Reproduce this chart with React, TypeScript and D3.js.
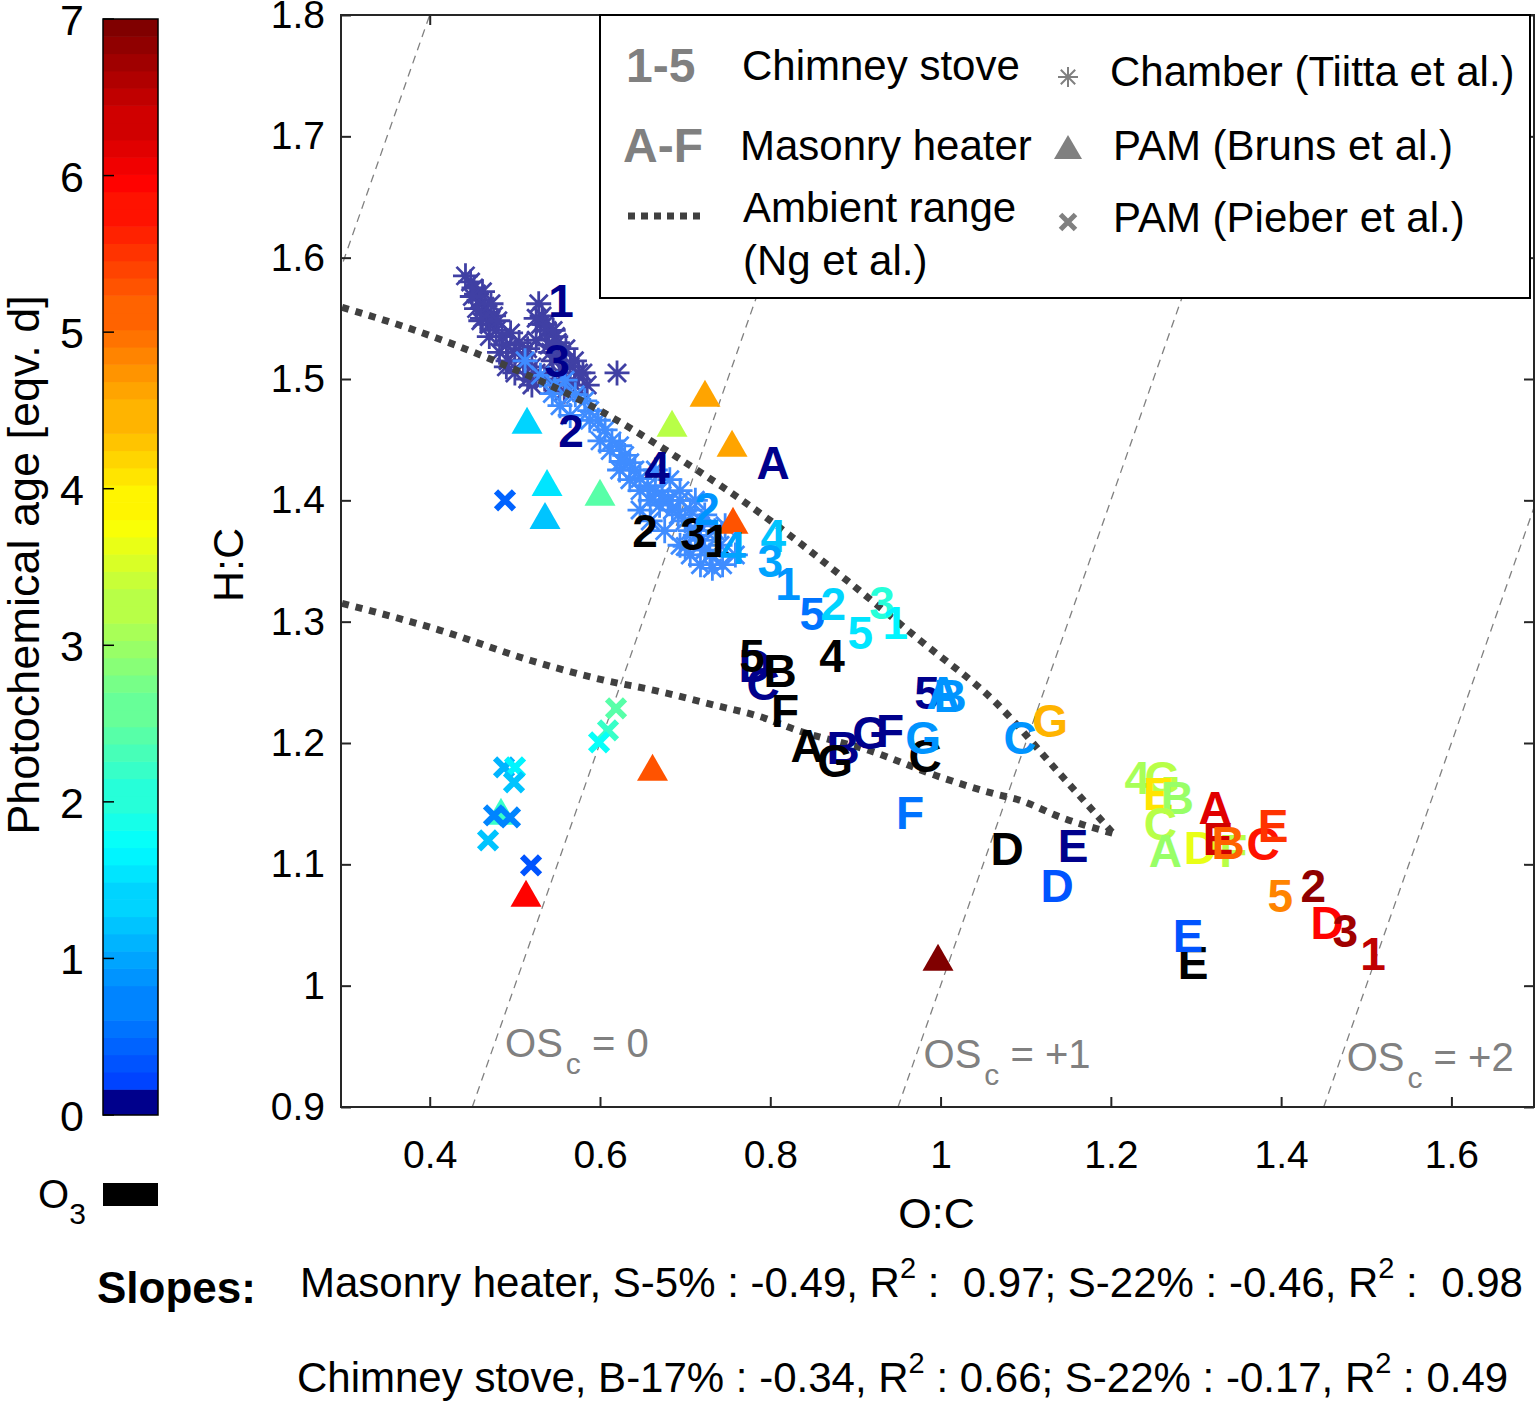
import { useEffect, useRef } from 'react';
import * as d3 from 'd3';

// ---------------- data ----------------
const xTicks = [0.4, 0.6, 0.8, 1.0, 1.2, 1.4, 1.6];
const yTicks = [0.9, 1.0, 1.1, 1.2, 1.3, 1.4, 1.5, 1.6, 1.7, 1.8];
const ageTicks = [0, 1, 2, 3, 4, 5, 6, 7];
const oscLevels = [-1, 0, 1, 2];
const oscLabels = ['0', '+1', '+2'];
const oscLabelOC = [0.4885, 0.98, 1.477];
const oscLabelHC = [0.9412, 0.9321, 0.9297];

// ambient range (Ng et al.)
const ambUpperOC = [0.297, 0.3886, 0.4747, 0.5922, 0.6901, 0.7997, 0.8898, 0.9759, 1.066, 1.1364, 1.2026];
const ambUpperHC = [1.559, 1.5387, 1.5154, 1.4769, 1.4357, 1.3835, 1.3341, 1.2846, 1.2325, 1.1775, 1.1256];
const ambLowerOC = [0.297, 0.4121, 0.5178, 0.6051, 0.6638, 0.7351, 0.7896, 0.8315, 0.9155, 0.9994, 1.0623, 1.0933, 1.1403, 1.2026];
const ambLowerHC = [1.3151, 1.2929, 1.2682, 1.2517, 1.2434, 1.2311, 1.2214, 1.2105, 1.194, 1.172, 1.1583, 1.1528, 1.139, 1.1256];

// chamber (Tiitta et al.) — fresh / early aging (dark) and aged (light)
const chamberDarkOC = [0.442, 0.448, 0.452, 0.455, 0.458, 0.462, 0.465, 0.468, 0.455, 0.462, 0.47, 0.475, 0.478, 0.472, 0.48,
  0.485, 0.49, 0.495, 0.5, 0.505, 0.51, 0.515, 0.52, 0.525, 0.53, 0.532, 0.538, 0.54, 0.545, 0.548, 0.552, 0.555, 0.56, 0.565,
  0.57, 0.575, 0.535, 0.545, 0.525, 0.515, 0.62, 0.45, 0.46, 0.47, 0.482, 0.492, 0.528, 0.542, 0.558,
  0.525, 0.535, 0.545, 0.55, 0.56, 0.57, 0.58, 0.585, 0.49, 0.5, 0.51, 0.52];
const chamberDarkHC = [1.585, 1.58, 1.575, 1.57, 1.565, 1.572, 1.56, 1.555, 1.558, 1.55, 1.545, 1.552, 1.54, 1.562, 1.548,
  1.535, 1.528, 1.538, 1.522, 1.53, 1.515, 1.525, 1.51, 1.532, 1.545, 1.552, 1.54, 1.528, 1.515, 1.535, 1.505, 1.52, 1.5, 1.51,
  1.495, 1.505, 1.5, 1.495, 1.505, 1.5, 1.505, 1.568, 1.548, 1.535, 1.522, 1.515, 1.562, 1.522, 1.49,
  1.55, 1.545, 1.54, 1.53, 1.525, 1.515, 1.505, 1.495, 1.51, 1.505, 1.52, 1.495];
const chamberLightOC = [0.512, 0.53, 0.547, 0.559, 0.571, 0.582, 0.588, 0.598, 0.606, 0.614, 0.623, 0.629, 0.635, 0.641, 0.647,
  0.656, 0.665, 0.673, 0.68, 0.685, 0.692, 0.7, 0.706, 0.712, 0.718, 0.723, 0.729, 0.732, 0.741, 0.735, 0.718, 0.706, 0.694,
  0.67, 0.659, 0.647, 0.635, 0.623, 0.612, 0.6, 0.588, 0.665, 0.682, 0.694, 0.712, 0.723, 0.747, 0.759, 0.744, 0.647, 0.659,
  0.676, 0.694, 0.706, 0.718, 0.544, 0.553, 0.565, 0.625, 0.7];
const chamberLightHC = [1.515, 1.503, 1.495, 1.499, 1.487, 1.482, 1.474, 1.466, 1.458, 1.449, 1.445, 1.437, 1.431, 1.425, 1.418,
  1.412, 1.408, 1.404, 1.4, 1.392, 1.388, 1.383, 1.375, 1.371, 1.367, 1.359, 1.355, 1.344, 1.363, 1.375, 1.379, 1.392, 1.4,
  1.396, 1.4, 1.408, 1.417, 1.425, 1.441, 1.449, 1.466, 1.425, 1.417, 1.408, 1.4, 1.388, 1.379, 1.355, 1.347, 1.392, 1.383,
  1.375, 1.363, 1.355, 1.347, 1.488, 1.478, 1.47, 1.432, 1.362];

// PAM (Bruns et al.) triangles, age in eqv. days
const brunsOC = [0.5143, 0.7233, 0.6846, 0.7551, 0.5378, 0.6, 0.5354, 0.7562, 0.6617, 0.4837, 0.5131, 0.997];
const brunsHC = [1.466, 1.4882, 1.4635, 1.447, 1.4148, 1.4066, 1.3876, 1.3835, 1.18, 1.1437, 1.0761, 1.0234];
const brunsAge = [1.4, 4.6, 3.2, 4.6, 1.5, 2.4, 1.3, 5.3, 5.3, 2.15, 5.95, 7];

// PAM (Pieber et al.) crosses
const pieberOC = [0.4884, 0.6188, 0.6094, 0.5989, 0.4873, 0.5002, 0.499, 0.4755, 0.4943, 0.4685, 0.519];
const pieberHC = [1.4, 1.2286, 1.2105, 1.2006, 1.1799, 1.1799, 1.1676, 1.1404, 1.1387, 1.1198, 1.0992];
const pieberAge = [0.46, 2.46, 2.15, 1.73, 1.09, 1.6, 1.2, 0.68, 0.68, 1.2, 0.25];

// this study: chimney stove (1-5) and masonry heater (A-G); age null = O3 only
const runLabel = ['1', '3', '2', '4', 'A', 'D', 'C', 'B', 'G', 'F', '5', 'E',
  '2', '3', '1', '5', 'B', '4', 'F', 'A', 'G', 'C', 'D', 'E',
  '2', '4', '4', '3', '1', '5', '2', '5', '3', '1', 'A', 'B', 'G', 'F', 'C', 'G', 'D', 'E',
  '4', 'G', 'E', 'B', 'C', 'A', 'D', 'F', 'A', 'E', 'B', 'C', 'E', '5', '2', 'D', '3', '1'];
const runOC = [0.5543, 0.5495, 0.566, 0.667, 0.8034, 0.7821, 0.7915, 0.8855, 0.9172, 0.9407, 0.9842, 1.1556,
  0.6529, 0.7093, 0.7375, 0.7786, 0.8115, 0.8725, 0.8173, 0.8432, 0.8761, 0.9818, 1.0781, 1.2966,
  0.7258, 0.7564, 0.8034, 0.7999, 0.821, 0.8492, 0.8739, 0.9056, 0.9314, 0.9467, 1.0031, 1.0111, 0.9795, 0.9641, 1.0933, 1.1286, 1.1368, 1.2907,
  1.231, 1.2604, 1.2557, 1.278, 1.2581, 1.2639, 1.305, 1.3438, 1.3226, 1.3261, 1.3378, 1.3789, 1.3907, 1.3989, 1.4377, 1.4541, 1.4753, 1.5081];
const runHC = [1.5649, 1.5155, 1.4578, 1.4273, 1.4314, 1.2641, 1.2493, 1.1965, 1.2089, 1.2105, 1.2418, 1.1156,
  1.3753, 1.3728, 1.3671, 1.2723, 1.2599, 1.2723, 1.227, 1.1982, 1.1858, 1.1899, 1.1132, 1.0192,
  1.3934, 1.3613, 1.3712, 1.3506, 1.3317, 1.3069, 1.3152, 1.2913, 1.316, 1.2995, 1.2418, 1.2394, 1.2047, 1.1429, 1.2047, 1.2187, 1.0827, 1.0415,
  1.1716, 1.1716, 1.1584, 1.1551, 1.1337, 1.1114, 1.1139, 1.1114, 1.1469, 1.1213, 1.118, 1.1172, 1.1321, 1.0744, 1.0827, 1.0522, 1.0456, 1.0266];
const runAge: (number | null)[] = [0, 0, 0, 0, 0, 0, 0, 0, 0, 0, 0, 0,
  null, null, null, null, null, null, null, null, null, null, null, null,
  0.85, 0.98, 1.3, 0.98, 0.88, 0.57, 1.4, 1.5, 2.1, 1.6, 0.88, 0.78, 0.78, 0.57, 0.78, 4.45, 0.25, 0.25,
  3.1, 3.2, 4.05, 2.99, 3.3, 2.99, 3.63, 3.2, 6.26, 6.37, 5.1, 5.73, 5.52, 4.79, 6.9, 5.95, 6.79, 6.47];

const slopeRows = [
  ['Masonry heater, S-5% : -0.49, R', ' :  0.97; S-22% : -0.46, R', ' :  0.98'],
  ['Chimney stove, B-17% : -0.34, R', ' : 0.66; S-22% : -0.17, R', ' : 0.49'],
];

// ---------------- helpers ----------------
const FONT = '"Liberation Sans", Arial, Helvetica, sans-serif';
const NAVY_TOP = 0.165; // height of the navy "0" band in the colorbar

function jet(t: number) {
  const c = (v: number) => Math.max(0, Math.min(1, v));
  return d3.rgb(c(1.5 - Math.abs(4 * t - 3)) * 255, c(1.5 - Math.abs(4 * t - 2)) * 255, c(1.5 - Math.abs(4 * t - 1)) * 255).formatHex();
}

// colormap used in the figure: navy for 0, then jet (without its darkest blues) up to 7 days
function ageColor(age: number | null) {
  if (age === null) return '#000000';
  if (age < NAVY_TOP) return '#00008c';
  const t = 0.19 + ((age - NAVY_TOP) / (7 - NAVY_TOP)) * 0.81;
  return jet(Math.round(t * 63) / 63);
}

function asteriskPath(r: number) {
  const d = r * 0.72;
  return `M${-r},0L${r},0M0,${-r}L0,${r}M${-d},${-d}L${d},${d}M${-d},${d}L${d},${-d}`;
}

export default function App() {
  const ref = useRef<SVGSVGElement>(null);

  useEffect(() => {
    if (!ref.current) return;
    const svg = d3.select(ref.current);
    svg.selectAll('*').remove();

    const plot = { left: 341, right: 1534, top: 15, bottom: 1107 };
    const xScale = d3.scaleLinear().domain([0.2958, 1.697]).range([plot.left, plot.right]);
    const yScale = d3.scaleLinear().domain([0.9, 1.8]).range([plot.bottom, plot.top]);
    const ageScale = d3.scaleLinear().domain([0, 7]).range([1115, 19]);

    svg.append('rect').attr('width', 1535).attr('height', 1401).attr('fill', '#fff');

    // clip for the axes area
    svg.append('defs').append('clipPath').attr('id', 'plotClip')
      .append('rect')
      .attr('x', plot.left).attr('y', plot.top)
      .attr('width', plot.right - plot.left).attr('height', plot.bottom - plot.top);

    const g = svg.append('g').attr('clip-path', 'url(#plotClip)');

    // OSc isolines: H:C = 2*O:C - OSc
    oscLevels.forEach(osc => {
      g.append('path')
        .datum([0.9, 1.8])
        .attr('d', d3.line<number>().x(hc => xScale((hc + osc) / 2)).y(hc => yScale(hc)))
        .attr('fill', 'none')
        .attr('stroke', '#808080')
        .attr('stroke-width', 1.3)
        .attr('stroke-dasharray', '8,6');
    });

    // OSc labels
    oscLabels.forEach((lab, i) => {
      const t = g.append('text')
        .attr('x', xScale(oscLabelOC[i]))
        .attr('y', yScale(oscLabelHC[i]))
        .attr('font-family', FONT).attr('font-size', 40).attr('fill', '#808080')
        .style('white-space', 'pre');
      t.append('tspan').text('OS');
      t.append('tspan').attr('dy', 17).attr('dx', 3).attr('font-size', 30).text('c');
      t.append('tspan').attr('dy', -17).text(` = ${lab}`);
    });

    // chamber asterisks
    const addAsterisks = (oc: number[], hc: number[], color: string) => {
      oc.forEach((v, i) => {
        g.append('path')
          .attr('d', asteriskPath(12.5))
          .attr('transform', `translate(${xScale(v)},${yScale(hc[i])})`)
          .attr('fill', 'none')
          .attr('stroke', color)
          .attr('stroke-width', 2.8);
      });
    };
    addAsterisks(chamberDarkOC, chamberDarkHC, '#4040a4');
    addAsterisks(chamberLightOC, chamberLightHC, '#3f8cff');

    // ambient range, dotted
    const ambLine = d3.line<[number, number]>().x(d => xScale(d[0])).y(d => yScale(d[1])).curve(d3.curveMonotoneX);
    [[ambUpperOC, ambUpperHC], [ambLowerOC, ambLowerHC]].forEach(([oc, hc]) => {
      g.append('path')
        .datum(oc.map((v, i) => [v, hc[i]] as [number, number]))
        .attr('d', ambLine)
        .attr('fill', 'none')
        .attr('stroke', '#404040')
        .attr('stroke-width', 7)
        .attr('stroke-dasharray', '7,7');
    });

    // Bruns triangles
    brunsOC.forEach((v, i) => {
      g.append('path')
        .attr('d', 'M-15.5,13.5L15.5,13.5L0,-13.5Z')
        .attr('transform', `translate(${xScale(v)},${yScale(brunsHC[i])})`)
        .attr('fill', ageColor(brunsAge[i]));
    });

    // Pieber crosses
    pieberOC.forEach((v, i) => {
      g.append('path')
        .attr('d', 'M-9,-9L9,9M-9,9L9,-9')
        .attr('transform', `translate(${xScale(v)},${yScale(pieberHC[i])})`)
        .attr('stroke', ageColor(pieberAge[i]))
        .attr('stroke-width', 6)
        .attr('fill', 'none');
    });

    // run labels
    runLabel.forEach((lab, i) => {
      g.append('text')
        .attr('x', xScale(runOC[i]))
        .attr('y', yScale(runHC[i]) + 16.5)
        .attr('text-anchor', 'middle')
        .attr('font-family', FONT)
        .attr('font-weight', 'bold')
        .attr('font-size', 46)
        .attr('fill', ageColor(runAge[i]))
        .text(lab);
    });

    // axes
    const axisStyle = (sel: d3.Selection<SVGGElement, unknown, null, undefined>) => {
      sel.select('.domain').remove();
      sel.selectAll('line').attr('stroke', '#262626').attr('stroke-width', 2);
      sel.selectAll('text').attr('font-family', FONT).attr('font-size', 39).attr('fill', '#000');
    };
    const fmt = (d: d3.NumberValue) => String(+(+d).toFixed(1));
    svg.append('g').attr('transform', `translate(0,${plot.bottom})`)
      .call(d3.axisBottom(xScale).tickValues(xTicks).tickSize(-10).tickPadding(33).tickFormat(fmt))
      .call(axisStyle);
    svg.append('g').attr('transform', `translate(0,${plot.top})`)
      .call(d3.axisTop(xScale).tickValues(xTicks).tickSize(-10).tickFormat(() => ''))
      .call(axisStyle);
    svg.append('g').attr('transform', `translate(${plot.left},0)`)
      .call(d3.axisLeft(yScale).tickValues(yTicks).tickSize(-10).tickPadding(16).tickFormat(fmt))
      .call(axisStyle);
    svg.append('g').attr('transform', `translate(${plot.right},0)`)
      .call(d3.axisRight(yScale).tickValues(yTicks).tickSize(-10).tickFormat(() => ''))
      .call(axisStyle);

    svg.append('rect')
      .attr('x', plot.left).attr('y', plot.top)
      .attr('width', plot.right - plot.left).attr('height', plot.bottom - plot.top)
      .attr('fill', 'none').attr('stroke', '#262626').attr('stroke-width', 2);

    svg.append('text').attr('x', (plot.left + plot.right) / 2 - 1).attr('y', 1228)
      .attr('text-anchor', 'middle').attr('font-family', FONT).attr('font-size', 43).text('O:C');
    svg.append('text').attr('transform', `translate(243,565) rotate(-90)`)
      .attr('text-anchor', 'middle').attr('font-family', FONT).attr('font-size', 43).text('H:C');

    // legend
    const leg = svg.append('g');
    leg.append('rect').attr('x', 600).attr('y', 15).attr('width', 930).attr('height', 283)
      .attr('fill', '#fff').attr('stroke', '#000').attr('stroke-width', 2);
    const legText = (x: number, y: number, s: string, bold = false) =>
      leg.append('text').attr('x', x).attr('y', y).attr('font-family', FONT)
        .attr('font-size', bold ? 48 : 42).attr('font-weight', bold ? 'bold' : 'normal')
        .attr('fill', bold ? '#808080' : '#000').text(s);
    legText(626, 82, '1-5', true);
    legText(742, 80, 'Chimney stove');
    legText(623, 162, 'A-F', true);
    legText(740, 160, 'Masonry heater');
    leg.append('line').attr('x1', 628).attr('x2', 700).attr('y1', 216).attr('y2', 216)
      .attr('stroke', '#404040').attr('stroke-width', 7).attr('stroke-dasharray', '7,6');
    legText(743, 222, 'Ambient range');
    legText(743, 275, '(Ng et al.)');
    leg.append('path').attr('d', asteriskPath(10)).attr('transform', 'translate(1068,77)')
      .attr('stroke', '#808080').attr('stroke-width', 2).attr('fill', 'none');
    legText(1110, 86, 'Chamber (Tiitta et al.)');
    leg.append('path').attr('d', 'M-14,12L14,12L0,-12Z').attr('transform', 'translate(1068,147)').attr('fill', '#808080');
    legText(1113, 160, 'PAM (Bruns et al.)');
    leg.append('path').attr('d', 'M-7.5,-7.5L7.5,7.5M-7.5,7.5L7.5,-7.5').attr('transform', 'translate(1068,222)')
      .attr('stroke', '#808080').attr('stroke-width', 5).attr('fill', 'none');
    legText(1113, 232, 'PAM (Pieber et al.)');

    // colorbar
    const cb = svg.append('g');
    cb.append('rect').attr('x', 103).attr('width', 55)
      .attr('y', ageScale(NAVY_TOP)).attr('height', ageScale(0) - ageScale(NAVY_TOP))
      .attr('fill', ageColor(0));
    const nBands = 62;
    const bandStep = (7 - NAVY_TOP) / nBands;
    const bands = d3.range(nBands).map(k => NAVY_TOP + k * bandStep);
    bands.forEach(a => {
      cb.append('rect')
        .attr('x', 103).attr('width', 55)
        .attr('y', ageScale(a + bandStep)).attr('height', ageScale(a) - ageScale(a + bandStep) + 0.6)
        .attr('fill', ageColor(a + bandStep / 2));
    });
    cb.append('rect').attr('x', 103).attr('y', ageScale(7)).attr('width', 55).attr('height', ageScale(0) - ageScale(7))
      .attr('fill', 'none').attr('stroke', '#000').attr('stroke-width', 1.5);
    ageTicks.forEach(a => {
      cb.append('line').attr('x1', 103).attr('x2', 114).attr('y1', ageScale(a)).attr('y2', ageScale(a))
        .attr('stroke', '#000').attr('stroke-width', 1.5);
      cb.append('text').attr('x', 72).attr('y', ageScale(a) + 16).attr('text-anchor', 'middle')
        .attr('font-family', FONT).attr('font-size', 43).text(a);
    });
    svg.append('text').attr('transform', 'translate(39,565) rotate(-90)')
      .attr('text-anchor', 'middle').attr('font-family', FONT).attr('font-size', 45).text('Photochemical age [eqv. d]');
    cb.append('rect').attr('x', 103).attr('y', 1183).attr('width', 55).attr('height', 23).attr('fill', '#000');
    const o3 = svg.append('text').attr('x', 38).attr('y', 1208).attr('font-family', FONT).attr('font-size', 40);
    o3.append('tspan').text('O');
    o3.append('tspan').attr('dy', 16).attr('font-size', 30).text('3');

    // slopes
    svg.append('text').attr('x', 97).attr('y', 1303).attr('font-family', FONT).attr('font-weight', 'bold')
      .attr('font-size', 44).text('Slopes:');
    slopeRows.forEach((row, i) => {
      const t = svg.append('text').attr('x', i === 0 ? 300 : 297).attr('y', i === 0 ? 1297 : 1392)
        .attr('font-family', FONT).attr('font-size', 42).style('white-space', 'pre');
      t.append('tspan').text(row[0]);
      t.append('tspan').attr('dy', -19).attr('font-size', 29).text('2');
      t.append('tspan').attr('dy', 19).text(row[1]);
      t.append('tspan').attr('dy', -19).attr('font-size', 29).text('2');
      t.append('tspan').attr('dy', 19).text(row[2]);
    });
  }, []);

  return (
    <svg ref={ref} width={1535} height={1401}
      style={{ position: 'absolute', left: 0, top: 0, display: 'block' }} />
  );
}
